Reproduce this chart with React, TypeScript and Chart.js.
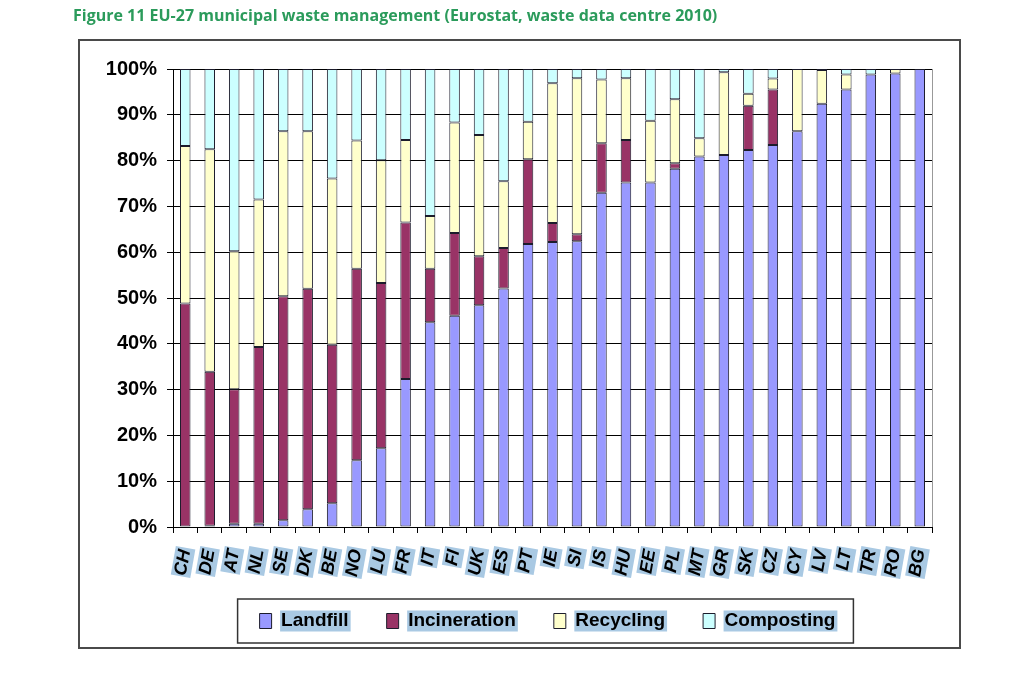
import React, { useEffect, useRef } from "react";
import { Chart, registerables } from "chart.js";

Chart.register(...registerables);

const countries = ["CH","DE","AT","NL","SE","DK","BE","NO","LU","FR","IT","FI","UK","ES","PT","IE","SI","IS","HU","EE","PL","MT","GR","SK","CZ","CY","LV","LT","TR","RO","BG"];

const landfill =     [0, 0.3, 0.7, 0.7, 1.5, 3.9, 5.2, 14.6, 17.2, 32.3, 44.7, 46.1, 48.4, 52.1, 61.8, 62.2, 62.4, 73.0, 75.2, 75.2, 78.2, 80.9, 81.2, 82.3, 83.4, 86.4, 92.4, 95.5, 98.8, 99.0, 100];
const incineration = [48.8, 33.6, 29.4, 38.6, 48.9, 48.1, 34.6, 41.8, 36.1, 34.2, 11.7, 18.1, 10.7, 8.8, 18.5, 4.2, 1.5, 10.8, 9.3, 0, 1.2, 0, 0, 9.7, 12.1, 0, 0, 0, 0, 0, 0];
const recycling =    [34.4, 48.6, 30.1, 32.2, 36.0, 34.4, 36.3, 28.0, 26.8, 18.0, 11.5, 24.1, 26.5, 14.6, 8.2, 30.5, 34.1, 13.9, 13.5, 13.5, 14.0, 4.0, 18.1, 2.6, 2.4, 13.6, 7.4, 3.3, 0, 1.0, 0];
const composting =   [16.8, 17.5, 39.8, 28.5, 13.6, 13.6, 23.9, 15.6, 19.9, 15.5, 32.1, 11.7, 14.4, 24.5, 11.5, 3.1, 2.0, 2.3, 2.0, 11.3, 6.6, 15.1, 0.7, 5.4, 2.1, 0, 0.2, 1.2, 1.2, 0, 0];

const seriesNames = ["Landfill", "Incineration", "Recycling", "Composting"];
const seriesColors = ["#9999ff", "#993366", "#ffffcc", "#ccffff"];

const titleText = "Figure 11 EU-27 municipal waste management (Eurostat, waste data centre 2010)";

const HIGHLIGHT = "#a9c9e3";
const FONT = "'Liberation Sans', Arial, sans-serif";
const LEGEND_FS = 19;
const LEGEND_BOX = 12;

const decorPlugin = {
  id: "decor",
  afterLayout(chart: any) {
    // widen the axis boxes so their (clipped) labels are fully visible
    const y = chart.scales.y;
    y.left = y.right - 75;
    y.width = 75;
    const x = chart.scales.x;
    x.bottom = x.top + 70;
    x.height = 70;
  },
  beforeDraw(chart: any) {
    const ctx = chart.ctx;
    ctx.save();
    ctx.fillStyle = "#ffffff";
    ctx.fillRect(0, 0, chart.width, chart.height);
    ctx.strokeStyle = "#4a4a4a";
    ctx.lineWidth = 2;
    ctx.strokeRect(79, 40, 881, 608);
    const lg = chart.legend;
    if (lg && lg.legendHitBoxes) {
      ctx.fillStyle = HIGHLIGHT;
      lg.legendHitBoxes.forEach((hb: any) => {
        const tx = hb.left + LEGEND_BOX + LEGEND_FS / 2;
        const tw = hb.width - LEGEND_BOX - LEGEND_FS / 2;
        const cy = hb.top + hb.height / 2;
        ctx.fillRect(tx - 1, cy - 10.5, tw + 3, 21);
      });
    }
    ctx.restore();
  },
  beforeDatasetsDraw(chart: any) {
    const ctx = chart.ctx;
    const a = chart.chartArea;
    ctx.save();
    ctx.strokeStyle = "#999999";
    ctx.lineWidth = 1;
    ctx.beginPath();
    ctx.moveTo(Math.round(a.right) + 0.5, a.top);
    ctx.lineTo(Math.round(a.right) + 0.5, a.bottom);
    ctx.stroke();
    ctx.restore();
  },
  afterDraw(chart: any) {
    const lg = chart.legend;
    if (!lg || !lg.legendHitBoxes || !lg.legendHitBoxes.length) return;
    const hbs = lg.legendHitBoxes;
    const first = hbs[0];
    const last = hbs[hbs.length - 1];
    const ctx = chart.ctx;
    ctx.save();
    ctx.strokeStyle = "#333333";
    ctx.lineWidth = 1.5;
    const left = first.left - 22;
    const right = last.left + last.width + 18;
    const top = first.top - 12.5;
    const bottom = first.top + first.height + 12.5;
    ctx.strokeRect(left, top, right - left, bottom - top);
    ctx.restore();
  },
};

export default function App() {
  const canvasRef = useRef<HTMLCanvasElement | null>(null);

  useEffect(() => {
    if (!canvasRef.current) return;
    const seriesData = [landfill, incineration, recycling, composting];
    const chart = new Chart(canvasRef.current, {
      type: "bar",
      data: {
        labels: countries,
        datasets: seriesNames.map((name, i) => ({
          label: name,
          data: seriesData[i],
          backgroundColor: seriesColors[i],
          borderColor: "#1c1c2c",
          borderWidth: 1,
          borderSkipped: false,
          barPercentage: 0.43,
          categoryPercentage: 1,
        })),
      },
      options: {
        responsive: false,
        animation: false,
        layout: { padding: { left: 163, right: 92, top: 69, bottom: 56.5 } },
        plugins: {
          legend: {
            position: "bottom",
            labels: {
              boxWidth: LEGEND_BOX,
              boxHeight: 15,
              padding: 38,
              color: "#000",
              font: { family: FONT, size: LEGEND_FS, weight: "bold" },
            },
          },
          tooltip: { enabled: false },
        },
        scales: {
          x: {
            stacked: true,
            grid: { offset: true, drawOnChartArea: false, drawTicks: true, tickLength: 6, color: "#000" },
            border: { color: "#000", width: 1 },
            ticks: {
              autoSkip: false,
              minRotation: 80,
              maxRotation: 80,
              padding: 15,
              labelOffset: -9.75,
              color: "#000",
              font: { family: FONT, size: 18, weight: "bold", style: "italic", lineHeight: 1.1 },
              showLabelBackdrop: true,
              backdropColor: HIGHLIGHT,
              backdropPadding: { top: 0, bottom: 0, left: 1, right: 2 },
            },
            afterFit: (s: any) => {
              s.height = 46.5;
            },
          },
          y: {
            stacked: true,
            min: 0,
            max: 100,
            ticks: {
              stepSize: 10,
              callback: (v: any) => v + "%",
              padding: 10,
              color: "#000",
              font: { family: FONT, size: 20, weight: "bold" },
            },
            grid: { color: "#000", tickLength: 6 },
            border: { color: "#000" },
            afterFit: (s: any) => {
              s.width = 10;
            },
          },
        },
      } as any,
      plugins: [decorPlugin],
    });
    return () => chart.destroy();
  }, []);

  return (
    <div style={{ position: "absolute", left: 0, top: 0, width: 1024, height: 697, background: "#fff" }}>
      <canvas ref={canvasRef} width={1024} height={697} style={{ display: "block", position: "absolute", left: 0, top: 0 }} />
      <div
        style={{
          position: "absolute",
          left: 73,
          top: 6.5,
          fontFamily: "'Open Sans', sans-serif",
          fontWeight: 700,
          fontSize: 16,
          lineHeight: "16px",
          color: "#2b9b5b",
          whiteSpace: "nowrap",
        }}
      >
        {titleText}
      </div>
    </div>
  );
}
